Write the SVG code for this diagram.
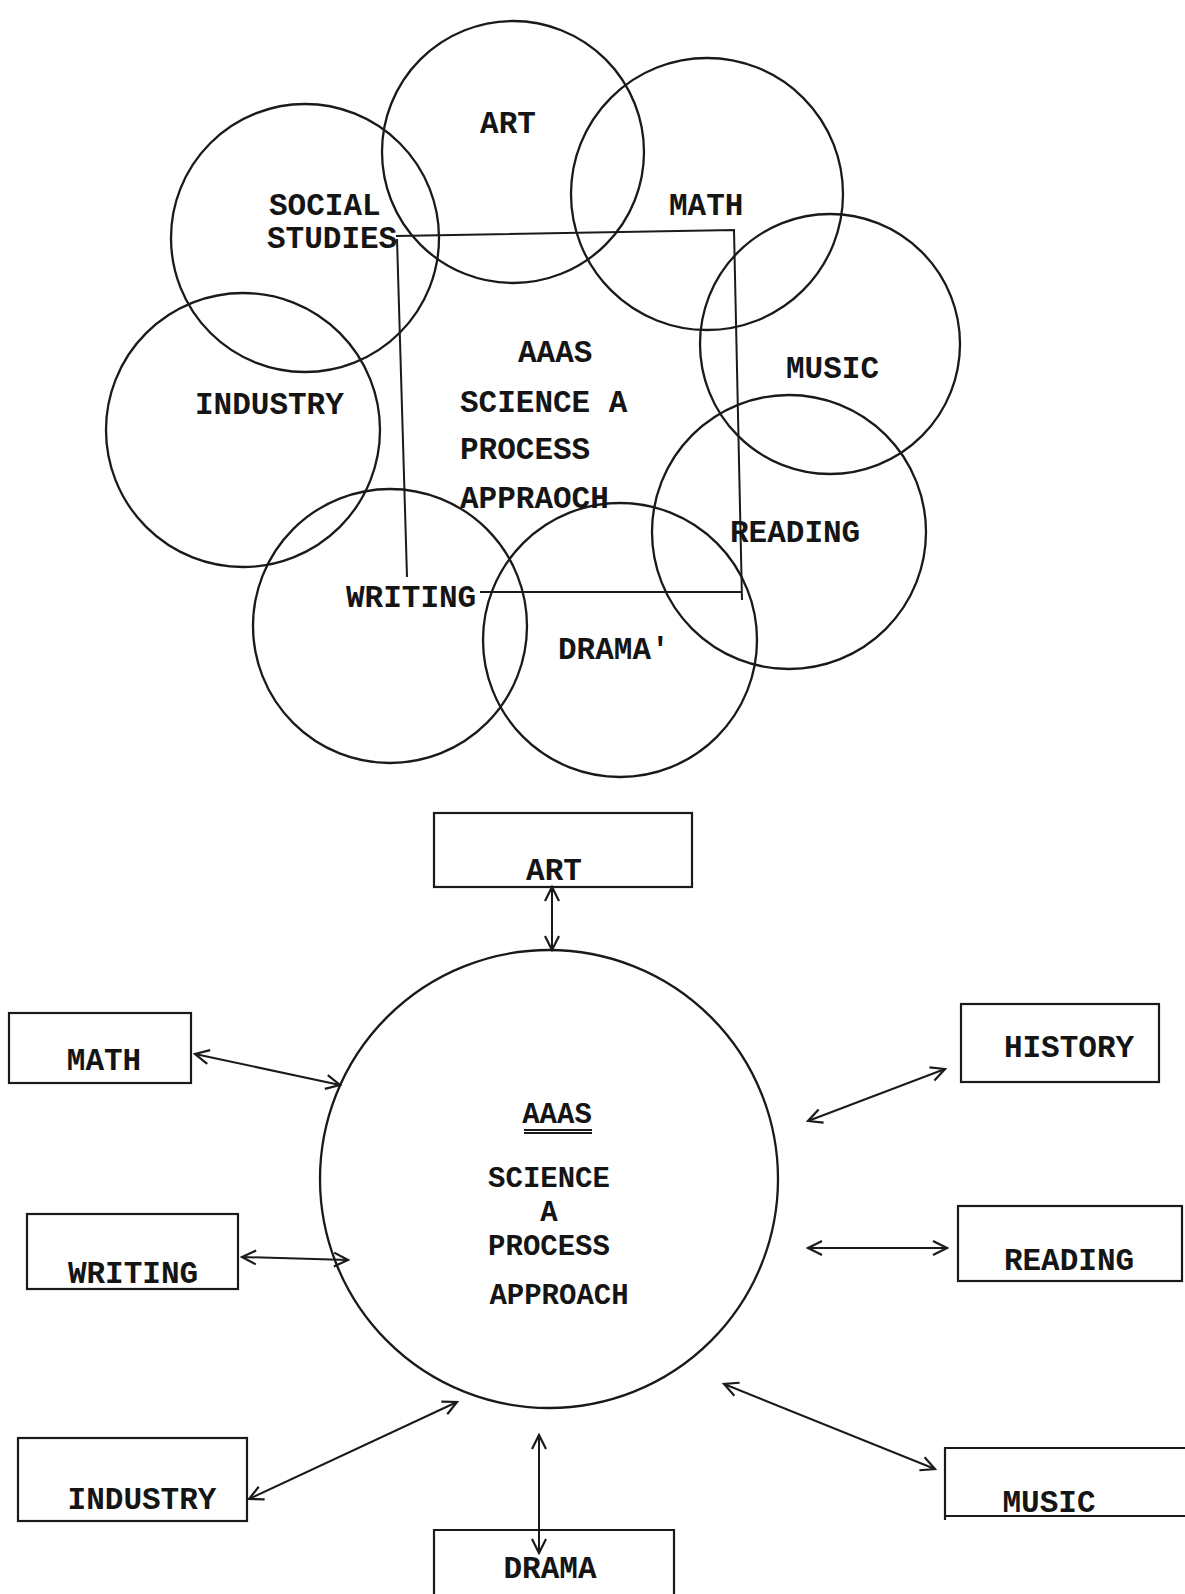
<svg xmlns="http://www.w3.org/2000/svg" width="1185" height="1594" viewBox="0 0 1185 1594">
<defs>
<style>
.c{fill:none;stroke:#1a1a1a;stroke-width:2.3}
.l{fill:none;stroke:#1a1a1a;stroke-width:2}
.b{fill:none;stroke:#1a1a1a;stroke-width:2.2}
.t{font-family:"Liberation Mono","DejaVu Sans Mono",monospace;font-weight:bold;font-size:31px;fill:#151515}
.h{font-size:29px}
.m{text-anchor:middle}
.a{fill:none;stroke:#1a1a1a;stroke-width:2;marker-start:url(#ah);marker-end:url(#ah)}
</style>
<marker id="ah" viewBox="0 0 20 20" refX="18" refY="10" markerWidth="20" markerHeight="20" markerUnits="userSpaceOnUse" orient="auto-start-reverse">
<path d="M4,3 L18,10 L4,17" fill="none" stroke="#1a1a1a" stroke-width="2.2"/>
</marker>
</defs>
<rect width="1185" height="1594" fill="#fff"/>

<!-- Top overlapping circles diagram -->
<g id="top-connectors">
<path class="l" d="M396,236 L734,230 L742,600"/>
<path class="l" d="M480,592 L742,592"/>
<path class="l" d="M397,239 L407,577"/>
</g>
<g id="top-art"><circle class="c" cx="513" cy="152" r="131"/><text class="t m" x="508" y="133">ART</text></g>
<g id="top-math"><circle class="c" cx="707" cy="194" r="136"/><text class="t" x="669" y="215">MATH</text></g>
<g id="top-social"><circle class="c" cx="305" cy="238" r="134"/><text class="t" x="269" y="215">SOCIAL</text><text class="t" x="267" y="248">STUDIES</text></g>
<g id="top-music"><circle class="c" cx="830" cy="344" r="130"/><text class="t" x="786" y="378">MUSIC</text></g>
<g id="top-industry"><circle class="c" cx="243" cy="430" r="137"/><text class="t" x="195" y="414">INDUSTRY</text></g>
<g id="top-reading"><circle class="c" cx="789" cy="532" r="137"/><text class="t" x="730" y="542">READING</text></g>
<g id="top-writing"><circle class="c" cx="390" cy="626" r="137"/><text class="t" x="346" y="607">WRITING</text></g>
<g id="top-drama"><circle class="c" cx="620" cy="640" r="137"/><text class="t" x="558" y="659">DRAMA'</text></g>
<g id="top-center">
<text class="t" x="518" y="362">AAAS</text>
<text class="t" x="460" y="412">SCIENCE A</text>
<text class="t" x="460" y="459">PROCESS</text>
<text class="t" x="460" y="508">APPRAOCH</text>
</g>

<!-- Bottom hub diagram -->
<g id="bottom-connectors">
<line class="a" x1="552" y1="950" x2="552" y2="887"/>
<line class="a" x1="340" y1="1085" x2="195" y2="1054"/>
<line class="a" x1="808" y1="1121" x2="945" y2="1069"/>
<line class="a" x1="348" y1="1260" x2="242" y2="1257"/>
<line class="a" x1="808" y1="1248" x2="947" y2="1248"/>
<line class="a" x1="457" y1="1402" x2="249" y2="1499"/>
<line class="a" x1="539" y1="1435" x2="539" y2="1553"/>
<line class="a" x1="724" y1="1384" x2="935" y2="1469"/>
</g>
<g id="hub">
<circle class="c" cx="549" cy="1179" r="229"/>
<text class="t h m" x="557" y="1123">AAAS</text>
<line class="l" x1="524" y1="1130" x2="592" y2="1130" stroke-width="1.5"/>
<line class="l" x1="524" y1="1133" x2="592" y2="1133" stroke-width="1.5"/>
<text class="t h m" x="549" y="1187">SCIENCE</text>
<text class="t h m" x="549" y="1221">A</text>
<text class="t h m" x="549" y="1255">PROCESS</text>
<text class="t h m" x="559" y="1304">APPROACH</text>
</g>
<g id="box-art"><rect class="b" x="434" y="813" width="258" height="74"/><text class="t m" x="554" y="880">ART</text></g>
<g id="box-math"><rect class="b" x="9" y="1013" width="182" height="70"/><text class="t m" x="104" y="1070">MATH</text></g>
<g id="box-history"><rect class="b" x="961" y="1004" width="198" height="78"/><text class="t m" x="1069" y="1057">HISTORY</text></g>
<g id="box-writing"><rect class="b" x="27" y="1214" width="211" height="75"/><text class="t m" x="133" y="1283">WRITING</text></g>
<g id="box-reading"><rect class="b" x="958" y="1206" width="224" height="75"/><text class="t m" x="1069" y="1270">READING</text></g>
<g id="box-industry"><rect class="b" x="18" y="1438" width="229" height="83"/><text class="t m" x="142" y="1509">INDUSTRY</text></g>
<g id="box-music"><path class="b" d="M1185,1448 L945,1448 L945,1520 M945,1516 L1185,1516"/><text class="t m" x="1049" y="1512">MUSIC</text></g>
<g id="box-drama"><path class="b" d="M434,1594 L434,1530 L674,1530 L674,1594"/><text class="t m" x="550" y="1578">DRAMA</text></g>
</svg>
